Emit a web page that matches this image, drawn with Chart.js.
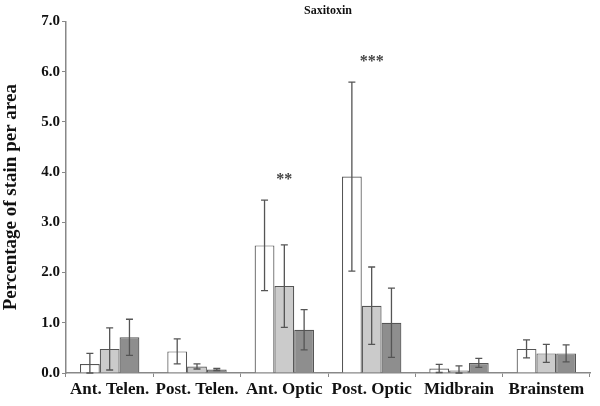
<!DOCTYPE html>
<html lang="en">
<head>
    <meta charset="UTF-8">
    <title>Saxitoxin</title>
    <script src="https://cdn.jsdelivr.net/npm/chart.js"></script>
    <style>
        html, body { margin: 0; padding: 0; background: #fff; }
    </style>
</head>
<body>
    <canvas id="graficoSaxitoxin" width="600" height="406"></canvas>

<script>
    // dados
    const categorias = ['Ant. Telen.', 'Post. Telen.', 'Ant. Optic', 'Post. Optic', 'Midbrain', 'Brainstem']
    const grupo1 = [0.18, 0.43, 2.54, 3.91, 0.09, 0.48]
    const erro1 = [0.21, 0.25, 0.90, 1.88, 0.08, 0.18]
    const grupo2 = [0.48, 0.13, 1.73, 1.34, 0.05, 0.39]
    const erro2 = [0.42, 0.05, 0.82, 0.77, 0.09, 0.18]
    const grupo3 = [0.71, 0.07, 0.86, 1.00, 0.20, 0.39]
    const erro3 = [0.36, 0.02, 0.40, 0.69, 0.09, 0.17]
    const estrelas = ['', '', '**', '***', '', '']
    const yTicks = [0, 1, 2, 3, 4, 5, 6, 7]

    const fonte = "'Liberation Serif', 'Times New Roman', serif"

    // barras de erro desenhadas pelas escalas do proprio chart
    const barrasErro = {
        id: 'barrasErro',
        afterDatasetsDraw(chart) {
            const ctx = chart.ctx
            const y = chart.scales.y
            ctx.save()
            ctx.strokeStyle = '#555'
            ctx.lineWidth = 1.3
            chart.data.datasets.forEach(function (ds, i) {
                const meta = chart.getDatasetMeta(i)
                meta.data.forEach(function (bar, j) {
                    const m = ds.data[j]
                    const e = ds.erros[j]
                    const yTop = y.getPixelForValue(m + e)
                    const yBot = y.getPixelForValue(Math.max(0, m - e))
                    ctx.beginPath()
                    ctx.moveTo(bar.x, yTop)
                    ctx.lineTo(bar.x, yBot)
                    ctx.moveTo(bar.x - 3.5, yTop)
                    ctx.lineTo(bar.x + 3.5, yTop)
                    ctx.moveTo(bar.x - 3.5, yBot)
                    ctx.lineTo(bar.x + 3.5, yBot)
                    ctx.stroke()
                })
            })
            // asteriscos de significancia
            ctx.fillStyle = '#444'
            ctx.font = 'bold 16px ' + fonte
            ctx.textAlign = 'center'
            ctx.textBaseline = 'middle'
            estrelas.forEach(function (s, j) {
                if (!s) return
                const x = chart.scales.x.getPixelForValue(j)
                const yy = y.getPixelForValue(grupo1[j] + erro1[j]) - 20
                ctx.fillText(s, x, yy)
            })
            ctx.restore()
        }
    }

    const graficoSaxitoxin = document.getElementById('graficoSaxitoxin')

    new Chart(graficoSaxitoxin, {
        type: 'bar',
        data: {
            labels: categorias,
            datasets: [
                { label: 'Grupo 1', data: grupo1, erros: erro1, backgroundColor: '#ffffff' },
                { label: 'Grupo 2', data: grupo2, erros: erro2, backgroundColor: '#cbcbcb' },
                { label: 'Grupo 3', data: grupo3, erros: erro3, backgroundColor: '#8e8e8e' }
            ]
        },
        options: {
            responsive: false,
            animation: false,
            devicePixelRatio: 1,
            layout: { padding: { left: 0, right: 10, top: 0, bottom: 0 } },
            datasets: {
                bar: {
                    borderColor: '#555',
                    borderWidth: 1.2,
                    categoryPercentage: 0.68,
                    barPercentage: 1
                }
            },
            scales: {
                x: {
                    offset: true,
                    grid: { display: true, offset: true, drawOnChartArea: false, drawTicks: true, tickLength: 4, color: '#888' },
                    border: { display: true, color: '#888', width: 1.5 },
                    ticks: { color: '#111', padding: 2, autoSkip: false, font: { family: fonte, size: 17, weight: 'bold' }, maxRotation: 0 },
                    afterFit(scale) { scale.height = 33 }
                },
                y: {
                    min: 0,
                    max: 7,
                    afterBuildTicks(scale) { scale.ticks = yTicks.map(v => ({ value: v })) },
                    grid: { display: true, drawOnChartArea: false, drawTicks: true, tickLength: 4, color: '#888' },
                    border: { display: true, color: '#888', width: 1.5 },
                    ticks: {
                        color: '#111',
                        padding: 2,
                        autoSkip: false,
                        font: { family: fonte, size: 15, weight: 'bold' },
                        callback: v => Number(v).toFixed(1)
                    },
                    title: {
                        display: true,
                        text: 'Percentage of stain per area',
                        color: '#111',
                        padding: { top: 0, bottom: 4 },
                        font: { family: fonte, size: 19, weight: 'bold' }
                    },
                    afterFit(scale) { scale.width = 66 }
                }
            },
            plugins: {
                legend: { display: false },
                tooltip: { enabled: false },
                title: {
                    display: true,
                    text: 'Saxitoxin',
                    fullSize: false,
                    color: '#111',
                    padding: { top: 4, bottom: 3 },
                    font: { family: fonte, size: 12, weight: 'bold', lineHeight: 1.2 }
                }
            }
        },
        plugins: [barrasErro]
    })
</script>
</body>
</html>
